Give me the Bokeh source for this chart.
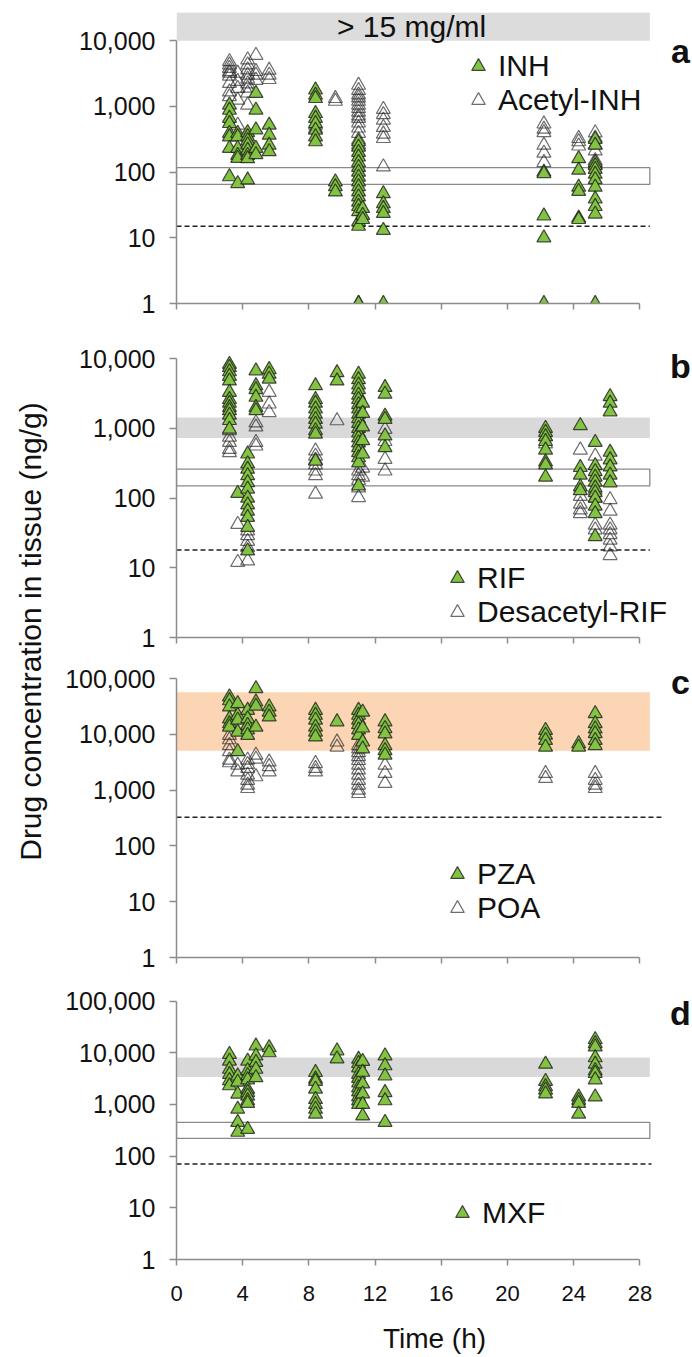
import math
from bokeh.plotting import figure
from bokeh.models import (Range1d, FixedTicker, NumeralTickFormatter, Label,
                          Legend, LegendItem)
from bokeh.layouts import column, row
from bokeh.embed import file_html
from bokeh.resources import INLINE

FONT = "Liberation Sans"
GREEN = "#82c341"
AXIS_GREY = "#8c8c8c"

# ---------------- data ----------------
X_TICKS = [0, 4, 8, 12, 16, 20, 24, 28]
Y_TICKS_4 = [1, 10, 100, 1000, 10000]
Y_TICKS_5 = [1, 10, 100, 1000, 10000, 100000]

# Panel a: INH / Acetyl-INH
inh_times = [3.2, 3.7, 4.3, 4.8, 5.6, 8.4, 9.6, 11.0, 11.25, 12.5, 22.2, 24.3, 25.3]
inh_values = [
    [1050, 875, 660, 550, 390, 345, 230, 85],
    [390, 345, 230, 180, 162, 67],
    [400, 345, 300, 260, 215, 180, 160, 76],
    [1580, 880, 440, 230, 185],
    [520, 365, 257, 205],
    [1780, 1480, 1320, 780, 660, 550, 436, 345, 290],
    [71, 60, 50],
    [290, 240, 200, 170, 140, 118, 100, 84, 71, 60, 50, 42, 35, 30, 25, 17.5, 15, 1, 1],
    [28, 22, 19],
    [47, 33, 28, 23.5, 13, 1],
    [100, 95, 21.5, 10, 1],
    [160, 107, 59, 51, 20, 19],
    [315, 257, 140, 125, 110, 93, 77, 59, 39, 30, 23, 1],
]
acinh_times = [3.2, 3.7, 4.3, 4.8, 5.6, 8.4, 9.6, 11.0, 12.5, 22.2, 24.3, 25.3]
acinh_values = [
    [4800, 4270, 3800, 3390, 3200, 2900, 2240, 1660, 1410],
    [3200, 2400, 1880, 1250, 520],
    [5100, 4300, 3600, 3000, 2600, 2200, 1900, 1600, 1050],
    [6000, 3400, 3000, 2500],
    [3560, 3000, 2570],
    [520, 460],
    [1320, 1200],
    [2100, 1750, 1500, 1350, 1200, 1050, 930, 820, 720, 660, 560, 470, 390, 309, 260],
    [900, 750, 620, 480, 380, 325, 120],
    [540, 450, 400, 257, 195, 140],
    [325, 290, 250],
    [395, 330, 260, 210, 150, 130],
]
inh_top_band = [10000, 27000]
inh_box = [65, 117]
inh_dash = 15

# Panel b: RIF / Desacetyl-RIF
rif_times = [3.2, 3.7, 4.3, 4.8, 5.6, 8.4, 9.7, 11.0, 11.25, 12.6, 22.3, 24.4, 25.3, 26.2]
rif_values = [
    [8300, 7500, 6500, 5600, 4800, 3300, 2600, 2300, 2000, 1800, 1550, 1300, 975],
    [117],
    [430, 310, 260, 210, 167, 135, 100, 80, 65, 53, 38, 17.5],
    [6700, 4100, 3600, 2800, 2000, 1800],
    [7000, 6000, 5100],
    [4100, 2600, 2300, 1900, 1600, 1350, 1150, 930, 830, 340],
    [6300, 4800],
    [6000, 5000, 4200, 3600, 3000, 2600, 2200, 1900, 1600, 1380, 1180, 1000, 860, 730,
     620, 530, 450, 380, 320, 150],
    [2300, 1650, 1050, 670, 430],
    [3870, 3100, 1500, 1350, 780, 530],
    [1000, 880, 760, 650, 490, 330, 300, 200],
    [1100, 275, 214, 145, 128],
    [630, 293, 240, 200, 170, 140, 120, 100, 77, 60, 28],
    [2860, 2300, 1730, 455, 355, 280, 214, 166],
]
drif_times = [3.2, 3.7, 4.3, 4.8, 5.6, 8.4, 9.7, 11.0, 11.25, 12.6, 22.3, 24.4, 25.3, 26.2]
drif_values = [
    [930, 750, 630, 500, 450],
    [42, 12],
    [34, 29, 24, 19.6, 12.6],
    [1200, 1050, 630, 560],
    [3300, 2240, 1690],
    [475, 400, 350, 300, 245, 210, 114],
    [1290],
    [245, 210, 180, 140, 102],
    [270, 200],
    [970, 650, 360, 245],
    [760, 600],
    [490, 106, 82, 68, 60],
    [400, 130, 100, 41, 35],
    [95, 65, 41, 35, 30, 25, 20, 15],
]
rif_grey_band = [730, 1430]
rif_box = [150, 260]
rif_dash = 18

# Panel c: PZA / POA
pza_times = [3.2, 3.7, 4.3, 4.8, 5.6, 8.4, 9.7, 11.0, 11.25, 12.6, 22.3, 24.3, 25.3]
pza_values = [
    [47000, 40000, 31000, 19000, 15500, 13500],
    [35500, 22000, 18000, 11000, 4900],
    [27000, 19000, 14500, 12000, 9600],
    [66000, 38000, 32000, 13500],
    [31000, 25000, 20500],
    [27000, 22000, 18000, 13500, 11000, 9000],
    [16800],
    [27000, 22000, 18000, 15000, 12000, 9600],
    [25000, 13000, 7300, 5500],
    [16800, 12700, 10200, 6300, 5100, 4250],
    [11800, 9700, 7800, 5900],
    [6800, 5900],
    [23500, 15600, 12500, 10300, 7800, 6300],
]
poa_times = [3.2, 3.7, 4.3, 4.8, 5.6, 8.4, 9.7, 11.0, 12.6, 22.3, 25.3]
poa_values = [
    [9600, 8000, 6300, 4900, 3460, 3100],
    [2800, 2130],
    [3460, 2900, 2450, 1860, 1500, 1230, 1070],
    [4250, 3600, 1740],
    [3200, 2650, 2130],
    [3000, 2450, 2130],
    [7300, 5900],
    [6300, 5500, 4700, 4000, 3400, 2800, 2300, 1860, 1500, 1230, 1000, 870],
    [2800, 2000, 1320],
    [1990, 1620],
    [1990, 1500, 1230, 1070],
]
pza_orange_band = [5100, 56800]
pza_dash = 327

# Panel d: MXF
mxf_times = [3.2, 3.7, 4.3, 4.8, 5.6, 8.4, 9.7, 11.0, 11.25, 12.6, 22.3, 24.3, 25.3]
mxf_values = [
    [9300, 6900, 4800, 3800, 2900, 2300],
    [3550, 2700, 1580, 810, 450, 290],
    [6900, 4500, 3600, 3000, 1960, 1700, 1450, 1180, 1050, 330],
    [13500, 8700, 6500, 4800, 3300],
    [12600, 10000],
    [4150, 3100, 2800, 1980, 1250, 1000, 810, 650],
    [10900, 7600],
    [7500, 6200, 5100, 3830, 3200, 2600, 2100, 1750, 1400, 1170, 1000],
    [6800, 4200, 2500, 1600, 1000, 600],
    [8700, 5600, 3550, 1700, 1180, 450],
    [6000, 2800, 2200, 1900, 1600],
    [1400, 1200, 1050, 650],
    [18000, 15000, 13000, 8000, 6000, 4500, 4000, 3000, 1400],
]
mxf_grey_band = [3400, 8100]
mxf_box = [220, 450]
mxf_dash = 70

# ---------------- layout constants ----------------
FRAME_W = 516
X_END = FRAME_W / 16.55
BAND_END = 28.6
BORDER_L = 126
TITLE_W = 50
TOTAL_H = 1357


def flatten(times, groups):
    xs, ys = [], []
    for t, vals in zip(times, groups):
        xs += [t] * len(vals)
        ys += list(vals)
    return xs, ys


def make_panel(frame_h, log_top, b_top, b_bottom, y_ticks, show_x_labels):
    p = figure(y_axis_type="log", x_range=Range1d(0, X_END),
               y_range=Range1d(1, 10 ** log_top),
               frame_width=FRAME_W, frame_height=frame_h,
               min_border_left=BORDER_L, min_border_right=0,
               min_border_top=b_top, min_border_bottom=b_bottom,
               output_backend="svg", toolbar_location=None)
    p.outline_line_color = None
    p.xgrid.visible = False
    p.ygrid.visible = False
    p.background_fill_color = "white"

    xa = p.xaxis[0]
    xa.ticker = FixedTicker(ticks=X_TICKS)
    xa.bounds = (0, 28)
    xa.axis_line_color = AXIS_GREY
    xa.axis_line_width = 1.5
    xa.major_tick_line_color = AXIS_GREY
    xa.major_tick_line_width = 1.5
    xa.major_tick_out = 6
    xa.major_tick_in = 0
    xa.minor_tick_line_color = None
    if show_x_labels:
        xa.major_label_text_font = FONT
        xa.major_label_text_font_size = "22px"
        xa.major_label_text_color = "#111111"
        xa.major_label_standoff = 20
        xa.axis_label = "Time (h)"
        xa.axis_label_text_font = FONT
        xa.axis_label_text_font_size = "28px"
        xa.axis_label_text_font_style = "normal"
        xa.axis_label_text_color = "#111111"
        xa.axis_label_standoff = 19
    else:
        xa.major_label_text_font_size = "0px"
        xa.major_label_text_color = None
        xa.major_label_standoff = 0

    ya = p.yaxis[0]
    ya.ticker = FixedTicker(ticks=y_ticks)
    ya.formatter = NumeralTickFormatter(format="0,0")
    ya.bounds = (1, y_ticks[-1])
    ya.axis_line_color = AXIS_GREY
    ya.axis_line_width = 1.5
    ya.major_tick_line_color = AXIS_GREY
    ya.major_tick_line_width = 1.5
    ya.major_tick_out = 7
    ya.major_tick_in = 0
    ya.minor_tick_line_color = None
    ya.major_label_text_font = FONT
    ya.major_label_text_font_size = "25px"
    ya.major_label_text_color = "#111111"
    ya.major_label_standoff = 14
    return p


def add_box(p, lo, hi, fill=None):
    if fill is None:
        p.quad(left=[0], right=[BAND_END], bottom=[lo], top=[hi],
               fill_alpha=0, line_color="#8a8a8a", line_width=1.3)
    else:
        p.quad(left=[0], right=[BAND_END], bottom=[lo], top=[hi],
               fill_color=fill, line_color=None)


def add_dash(p, v, end):
    p.segment(x0=[0], y0=[v], x1=[end], y1=[v], line_color="#222222",
              line_width=1.5, line_dash="5 3")


def add_points(p, times, groups, kind):
    xs, ys = flatten(times, groups)
    if kind == "open":
        return p.scatter(xs, ys, marker="triangle", size=14, fill_color="white",
                         fill_alpha=0.0, line_color="#262626", line_alpha=0.68,
                         line_width=1.2)
    return p.scatter(xs, ys, marker="triangle", size=14, fill_color=GREEN,
                     line_color="#1e1e1e", line_alpha=0.8, line_width=1.2)


def add_legend(p, items, loc):
    lg = Legend(items=[LegendItem(label=l, renderers=[r]) for l, r in items],
                location=loc, glyph_width=34, glyph_height=34, label_height=34,
                label_standoff=3, spacing=0, padding=0, margin=0,
                border_line_color=None, background_fill_alpha=0,
                label_text_font=FONT, label_text_font_size="30px",
                label_text_color="#111111")
    p.add_layout(lg)


def add_letter(p, ch, y):
    p.add_layout(Label(x=30.45, y=y, text=ch, text_font=FONT, text_font_size="34px",
                       text_font_style="bold", text_align="center",
                       text_baseline="middle", text_color="#111111"))


# ---- panel a ----
pa = make_panel(291, 4.429, 12, 19, Y_TICKS_4, False)
add_box(pa, inh_top_band[0], inh_top_band[1], fill="#dcdcdc")
add_box(pa, inh_box[0], inh_box[1])
add_dash(pa, inh_dash, 28.6)
ra_open = add_points(pa, acinh_times, acinh_values, "open")
ra_green = add_points(pa, inh_times, inh_values, "green")
add_legend(pa, [("INH", ra_green), ("Acetyl-INH", ra_open)], (285, 186))
pa.add_layout(Label(x=14.2, y=16500, text="> 15 mg/ml", text_font=FONT,
                    text_font_size="30px", text_align="center",
                    text_baseline="middle", text_color="#111111"))
add_letter(pa, "a", 6900)

# ---- panel b ----
pb = make_panel(297, 4.261, 18, 18, Y_TICKS_4, False)
add_box(pb, rif_grey_band[0], rif_grey_band[1], fill="#d9d9d9")
add_box(pb, rif_box[0], rif_box[1])
add_dash(pb, rif_dash, 28.6)
rb_open = add_points(pb, drif_times, drif_values, "open")
rb_green = add_points(pb, rif_times, rif_values, "green")
add_legend(pb, [("RIF", rb_green), ("Desacetyl-RIF", rb_open)], (264, 8))
add_letter(pb, "b", 7900)

# ---- panel c ----
pc = make_panel(295, 5.287, 7, 18, Y_TICKS_5, False)
add_box(pc, pza_orange_band[0], pza_orange_band[1], fill="#fcd5b5")
add_dash(pc, pza_dash, 29.3)
rc_open = add_points(pc, poa_times, poa_values, "open")
rc_green = add_points(pc, pza_times, pza_values, "green")
add_legend(pc, [("PZA", rc_green), ("POA", rc_open)], (264, 32))
add_letter(pc, "c", 85800)

# ---- panel d ----
pd_ = make_panel(274, 5.30, 10, 98, Y_TICKS_5, True)
add_box(pd_, mxf_grey_band[0], mxf_grey_band[1], fill="#d9d9d9")
add_box(pd_, mxf_box[0], mxf_box[1])
add_dash(pd_, mxf_dash, 28.7)
rd_green = add_points(pd_, mxf_times, mxf_values, "green")
add_legend(pd_, [("MXF", rd_green)], (269, 29))
add_letter(pd_, "d", 59000)

# ---- y title ----
pt = figure(width=TITLE_W, height=TOTAL_H, x_range=Range1d(0, 1), y_range=Range1d(0, 1),
            min_border=0, x_axis_location=None, y_axis_location=None,
            output_backend="svg", toolbar_location=None)
pt.outline_line_color = None
pt.xgrid.visible = False
pt.ygrid.visible = False
pt.add_layout(Label(x=0.6, y=0.535, text="Drug concentration in tissue (ng/g)",
                    angle=math.pi / 2, text_font=FONT, text_font_size="30px",
                    text_align="center", text_baseline="middle",
                    text_color="#111111"))

layout = row(pt, column(pa, pb, pc, pd_, spacing=0), spacing=0)
open("out.html", "w").write(file_html(layout, INLINE))
